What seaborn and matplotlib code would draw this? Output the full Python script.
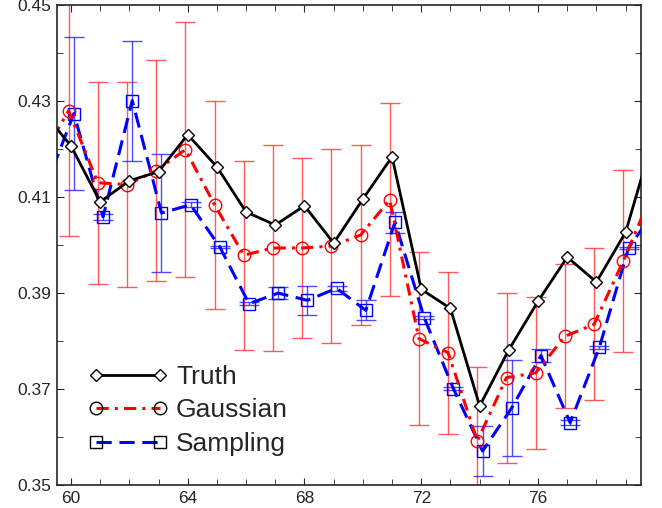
import numpy as np
import pandas as pd
import seaborn as sns
import matplotlib.pyplot as plt

# ---------------- data ----------------
# line values, x = 59..80 (ends fall outside the axes, only the edges show)
x_line = list(range(59, 81))
truth = [0.4280, 0.4207, 0.4090, 0.4134, 0.4153, 0.4230, 0.4163, 0.4069, 0.4042, 0.4082, 0.4004,
         0.4096, 0.4184, 0.3908, 0.3868, 0.3665, 0.3782, 0.3883, 0.3975, 0.3923, 0.4027, 0.4235]
gaussian = [0.4175, 0.4280, 0.4130, 0.4126, 0.4155, 0.4199, 0.4084, 0.3979, 0.3994, 0.3994, 0.3998,
            0.4021, 0.4094, 0.3805, 0.3776, 0.3592, 0.3724, 0.3734, 0.3810, 0.3835, 0.3967, 0.4110]
sampling = [0.4116, 0.4274, 0.4059, 0.4301, 0.4067, 0.4084, 0.3996, 0.3878, 0.3900, 0.3885, 0.3910,
            0.3864, 0.4048, 0.3849, 0.3701, 0.3571, 0.3661, 0.3770, 0.3630, 0.3787, 0.3994, 0.4080]

# error half widths for x = 60..79
gauss_err = [0.026, 0.021, 0.0213, 0.023, 0.0265, 0.0217, 0.0197, 0.0215, 0.0187, 0.0202,
             0.0188, 0.0201, 0.018, 0.0169, 0.0155, 0.0177, 0.0158, 0.015, 0.0158, 0.019]
samp_err = [0.016, 0.0006, 0.0125, 0.0123, 0.0005, 0.0003, 0.0003, 0.0013, 0.003, 0.0005,
            0.0021, 0.0022, 0.0003, 0.0003, 0.0053, 0.010, 0.0014, 0.0005, 0.0003, 0.0003]

x_ticks = [60, 64, 68, 72, 76]
y_ticks = [0.35, 0.37, 0.39, 0.41, 0.43, 0.45]

df = pd.DataFrame({'x': x_line, 'Truth': truth, 'Gaussian': gaussian, 'Sampling': sampling})
x_err = np.array(x_line[1:-1])

sns.set_style('ticks')
plt.rcParams['font.family'] = ['Liberation Sans', 'DejaVu Sans']

fig = plt.figure(figsize=(6.62, 5.08), dpi=100)
ax = fig.add_axes([0.086, 0.045, 0.882, 0.945])

# ---- error bars (drawn under the lines, slightly offset like the original) ----
ax.errorbar(x_err - 0.08, df['Gaussian'].values[1:-1], yerr=gauss_err, fmt='none',
            ecolor='#ff3030', elinewidth=1.0, capsize=7, capthick=1.0, alpha=0.8, zorder=2)
ax.errorbar(x_err + 0.1, df['Sampling'].values[1:-1], yerr=samp_err, fmt='none',
            ecolor='#2020ff', elinewidth=1.0, capsize=7, capthick=1.0, alpha=0.8, zorder=2)

# ---- lines ----
df_g = df.assign(x=df['x'] - 0.08)
df_s = df.assign(x=df['x'] + 0.1)

sns.lineplot(data=df_s, x='x', y='Sampling', ax=ax, color='#0000ff', lw=2.2,
             marker='s', markersize=8, markerfacecolor='none', markeredgecolor='#0000ff',
             markeredgewidth=1.0, label='Sampling', zorder=3)
sns.lineplot(data=df_g, x='x', y='Gaussian', ax=ax, color='#ff0000', lw=2.2,
             marker='o', markersize=9, markerfacecolor='none', markeredgecolor='#ff0000',
             markeredgewidth=1.0, label='Gaussian', zorder=4)
sns.lineplot(data=df, x='x', y='Truth', ax=ax, color='black', lw=2.0,
             marker='D', markersize=6.5, markerfacecolor='white', markeredgecolor='black',
             markeredgewidth=1.0, label='Truth', zorder=5)

by_label = {l.get_label(): l for l in ax.get_lines()}
by_label['Sampling'].set_dashes((5, 2.5))
by_label['Gaussian'].set_dashes((4, 2, 1, 2))

ax.set_xlim(59.52, 79.52)
ax.set_ylim(0.35, 0.45)
ax.set_xticks(x_ticks)
ax.set_xticks(range(60, 80), minor=True)
ax.set_yticks(y_ticks)
ax.set_yticks(np.arange(0.35, 0.451, 0.01), minor=True)
ax.set_yticklabels([f'{v:.2f}' for v in y_ticks])
ax.tick_params(which='both', direction='in', top=True, right=True, labelsize=12.5, pad=4)
ax.tick_params(which='major', length=5)
ax.tick_params(which='minor', length=4)
ax.set_xlabel('')
ax.set_ylabel('')
for s in ax.spines.values():
    s.set_linewidth(1.2)

handles, labels = ax.get_legend_handles_labels()
order = [labels.index(n) for n in ['Truth', 'Gaussian', 'Sampling']]
leg = ax.legend([handles[i] for i in order], [labels[i] for i in order], loc='lower left',
                bbox_to_anchor=(0.054, 0.061), borderaxespad=0, borderpad=0,
                frameon=False, fontsize=19, numpoints=2,
                handlelength=3.0, handletextpad=0.32, labelspacing=0.36)
# legend markers are drawn in black in the original
for h in leg.legend_handles:
    h.set_markeredgecolor('black')

fig.savefig('out.png', dpi=100)
